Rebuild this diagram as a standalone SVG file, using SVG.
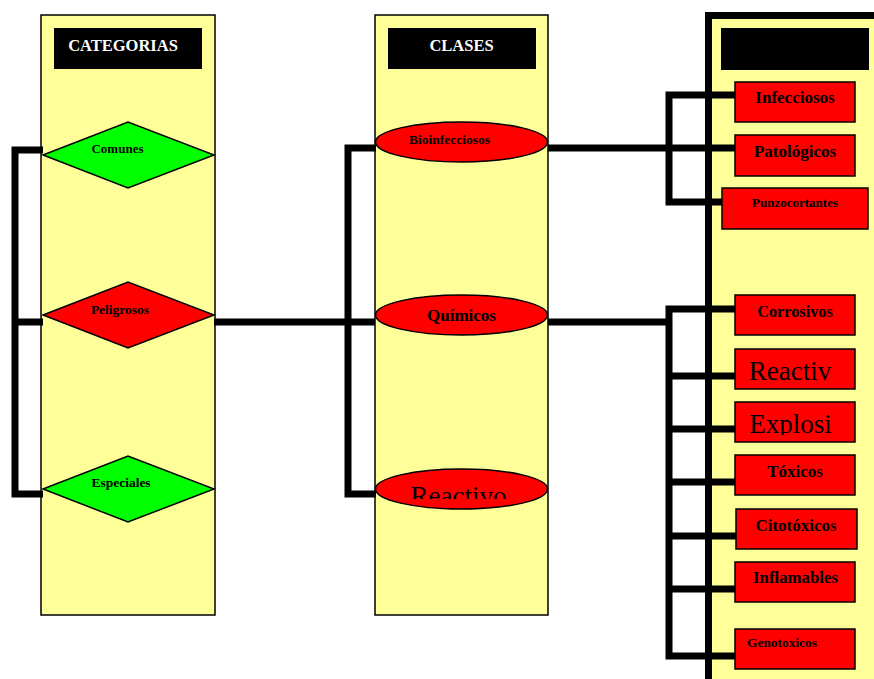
<svg xmlns="http://www.w3.org/2000/svg" width="874" height="679" viewBox="0 0 874 679">
<style>
.col{fill:#ffff99;stroke:#000;stroke-width:1.5}
.title{fill:#000}
.tt{font-family:"Liberation Serif",serif;font-weight:bold;font-size:16.5px;fill:#fff;text-anchor:middle}
.lbl{font-family:"Liberation Serif",serif;font-weight:bold;fill:#000;text-anchor:middle}
.big{font-family:"Liberation Serif",serif;font-weight:normal;fill:#000;text-anchor:middle;font-size:27px}
.red{fill:#ff0000;stroke:#000;stroke-width:1.5}
.green{fill:#00ff00;stroke:#000;stroke-width:1.5}
.box{fill:#ff0000;stroke:#000;stroke-width:1.5}
.conn{fill:none;stroke:#000;stroke-width:7;stroke-linejoin:miter;stroke-linecap:butt}
</style>
<defs>
<clipPath id="clipReactivo"><rect x="375" y="460" width="175" height="39"/></clipPath>
<clipPath id="clipExplosi"><rect x="735" y="402" width="120" height="33"/></clipPath>
<clipPath id="clipReactiv"><rect x="735" y="349" width="120" height="40"/></clipPath>
</defs>
<rect width="874" height="679" fill="#fff"/>

<g id="col-categorias">
<rect class="col" x="41" y="15" width="174" height="600"/>
<rect class="title" x="54" y="28" width="148" height="41"/>
<text class="tt" x="123" y="51">CATEGORIAS</text>
</g>
<g id="col-clases">
<rect class="col" x="375" y="15" width="173" height="600"/>
<rect class="title" x="388" y="28" width="148" height="41"/>
<text class="tt" x="461.5" y="51">CLASES</text>
</g>
<g id="col-tipos">
<rect x="708.5" y="15.5" width="200" height="700" fill="#ffff99" stroke="#000" stroke-width="7"/>
<rect class="title" x="721" y="28" width="148" height="42"/>
</g>

<g id="connectors">
<path class="conn" d="M43,150 H15 V494 H43 M15,322 H43"/>
<path class="conn" d="M214,322 H375"/>
<path class="conn" d="M376,148 H348 V494 H376"/>
<path class="conn" d="M548,148 H669"/>
<path class="conn" d="M735,95 H669 V202 H722 M669,148 H735"/>
<path class="conn" d="M548,322 H669"/>
<path class="conn" d="M735,309 H669 V656 H735 M669,376 H735 M669,429 H735 M669,482 H735 M669,536 H736 M669,589 H735"/>
</g>

<g id="comunes">
<polygon class="green" points="43,155 128,122 214,155 128,188"/>
<text class="lbl" x="117.5" y="153" font-size="13">Comunes</text>
</g>
<g id="peligrosos">
<polygon class="red" points="43,315 128,282 214,315 128,348"/>
<text class="lbl" x="120" y="314" font-size="13.5">Peligrosos</text>
</g>
<g id="especiales">
<polygon class="green" points="43,489 128,456 214,489 128,522"/>
<text class="lbl" x="121" y="487" font-size="13.5">Especiales</text>
</g>

<g id="bioinfecciosos">
<ellipse class="red" cx="461.5" cy="142" rx="86" ry="20"/>
<text class="lbl" x="449.5" y="144" font-size="13.5">Bioinfecciosos</text>
</g>
<g id="quimicos">
<ellipse class="red" cx="461.5" cy="315" rx="86" ry="20"/>
<text class="lbl" x="461.5" y="321" font-size="17">Químicos</text>
</g>
<g id="reactivo">
<ellipse class="red" cx="461.5" cy="489" rx="86" ry="20"/>
<text class="big" x="458.5" y="505" clip-path="url(#clipReactivo)">Reactivo</text>
</g>

<g id="infecciosos">
<rect class="box" x="735" y="82" width="120" height="40"/>
<text class="lbl" x="795" y="103" font-size="17">Infecciosos</text>
</g>
<g id="patologicos">
<rect class="box" x="735" y="135" width="120" height="41"/>
<text class="lbl" x="795" y="157" font-size="17">Patológicos</text>
</g>
<g id="punzocortantes">
<rect class="box" x="722" y="188" width="146" height="41"/>
<text class="lbl" x="795" y="207" font-size="13">Punzocortantes</text>
</g>
<g id="corrosivos">
<rect class="box" x="735" y="295" width="120" height="40"/>
<text class="lbl" x="795" y="317" font-size="16.3">Corrosivos</text>
</g>
<g id="reactiv">
<rect class="box" x="735" y="349" width="120" height="40"/>
<text class="big" x="790" y="380" clip-path="url(#clipReactiv)">Reactiv</text>
</g>
<g id="explosi">
<rect class="box" x="735" y="402" width="120" height="40"/>
<text class="big" x="790.5" y="433" clip-path="url(#clipExplosi)">Explosi</text>
</g>
<g id="toxicos">
<rect class="box" x="735" y="455" width="120" height="40"/>
<text class="lbl" x="795" y="477" font-size="17">Tóxicos</text>
</g>
<g id="citotoxicos">
<rect class="box" x="736" y="509" width="121" height="40"/>
<text class="lbl" x="796" y="531" font-size="17">Citotóxicos</text>
</g>
<g id="inflamables">
<rect class="box" x="735" y="562" width="120" height="40"/>
<text class="lbl" x="795.5" y="583" font-size="16.8">Inflamables</text>
</g>
<g id="genotoxicos">
<rect class="box" x="735" y="629" width="120" height="40"/>
<text class="lbl" x="782" y="647" font-size="13.4">Genotoxicos</text>
</g>
</svg>
